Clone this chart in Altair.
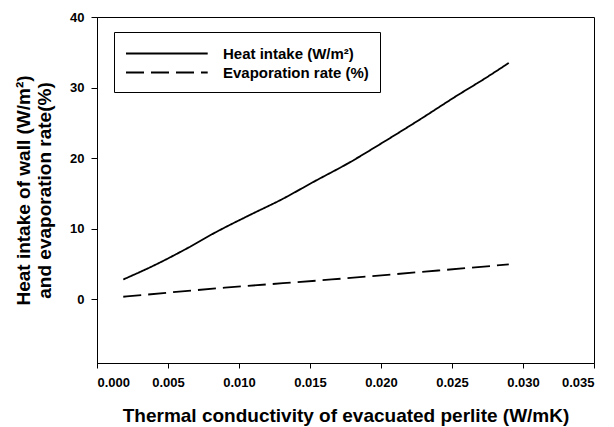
import altair as alt
import pandas as pd

heat_x = [0.00185, 0.0041, 0.0062, 0.0083, 0.0107, 0.0130, 0.01535, 0.0177, 0.0199, 0.02275, 0.0253, 0.0274, 0.0290]
heat_y = [2.83, 4.9, 7.08, 9.45, 11.9, 14.16, 16.76, 19.3, 21.95, 25.5, 28.8, 31.4, 33.5]
evap_x = [0.00185, 0.0090, 0.01653, 0.02403, 0.0290]
evap_y = [0.38, 1.66, 2.83, 4.1, 4.96]
series = ["Heat intake (W/m²)", "Evaporation rate (%)"]

df = pd.concat([
    pd.DataFrame({"x": heat_x, "y": heat_y, "s": series[0], "o": range(len(heat_x))}),
    pd.DataFrame({"x": evap_x, "y": evap_y, "s": series[1], "o": range(len(evap_x))}),
])

FONT = "Liberation Sans"

chart = alt.Chart(df).mark_line(color="black", strokeWidth=1.8, interpolate="monotone").encode(
    x=alt.X("x:Q", scale=alt.Scale(domain=[0, 0.035], nice=False),
            axis=alt.Axis(values=[0, 0.005, 0.01, 0.015, 0.02, 0.025, 0.03, 0.035], format=".3f",
                          title="Thermal conductivity of evacuated perlite (W/mK)")),
    y=alt.Y("y:Q", scale=alt.Scale(domain=[-9, 40], nice=False),
            axis=alt.Axis(values=[0, 10, 20, 30, 40],
                          title=["Heat intake of wall (W/m²)", "and evaporation rate(%)"])),
    strokeDash=alt.StrokeDash("s:N", scale=alt.Scale(domain=series, range=[[1, 0], [18, 7]]),
                              legend=alt.Legend(title=None, orient="none", legendX=17, legendY=15,
                                                symbolType="M-1,0H7.6", symbolSize=361,
                                                symbolStrokeColor="black", symbolStrokeWidth=1.8,
                                                labelOffset=77, strokeColor="black", padding=11,
                                                labelFont=FONT, labelFontSize=15, labelFontWeight="bold",
                                                fillColor="white", rowPadding=0)),
    order="o:Q",
).properties(
    width=497, height=346,
    autosize=alt.AutoSizeParams(type="none"),
    padding={"left": 89, "top": 9, "right": 12, "bottom": 64},
).configure_view(stroke="black", strokeWidth=1).configure_axis(
    grid=False, domainColor="black", tickColor="black",
    labelFont=FONT, labelFontSize=13, labelFontWeight="bold", labelColor="black",
    titleFont=FONT, titleFontSize=19, titleFontWeight="bold", titleColor="black",
).configure_axisY(tickSize=6, labelPadding=7, titlePadding=15, titleLineHeight=21).configure_axisX(
    tickSize=5, labelPadding=8, titlePadding=17)

chart.save("out.html", embed_options={"renderer": "svg", "actions": False})
